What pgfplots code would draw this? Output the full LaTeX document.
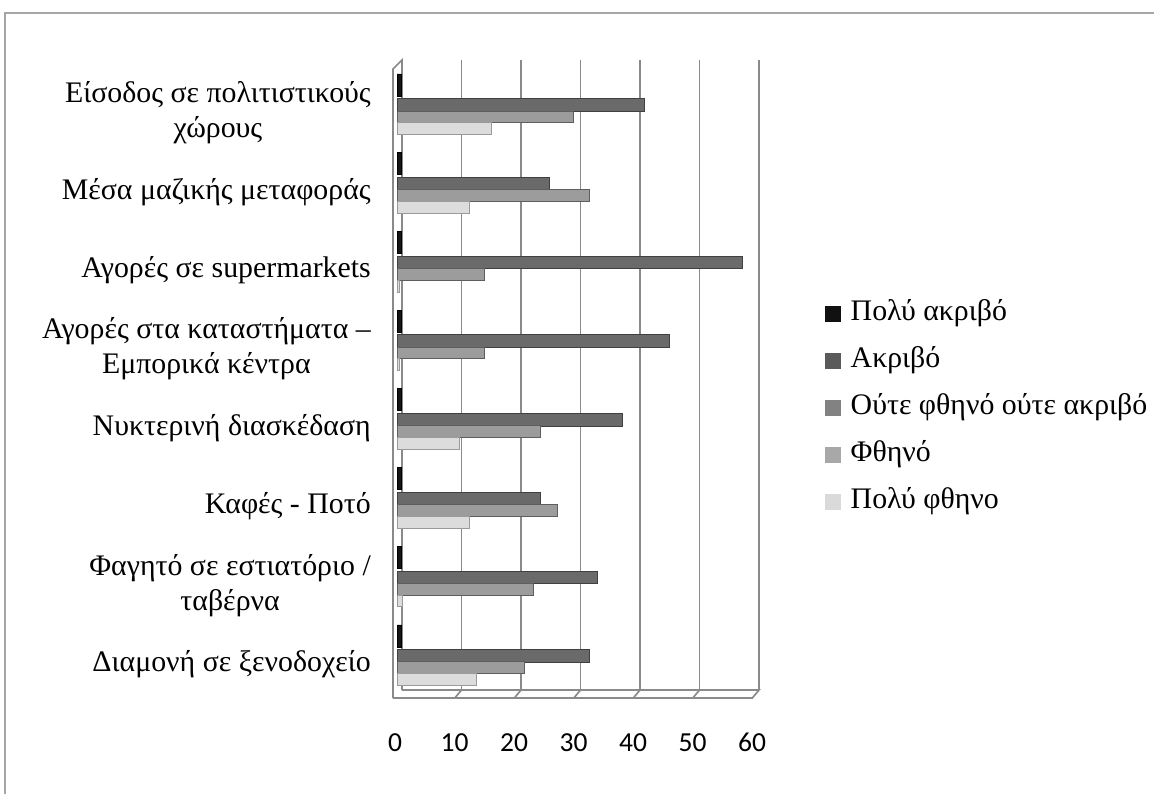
\documentclass[border=0pt]{standalone}
\usepackage{pgfplots}
\pgfplotsset{compat=1.18}
\usepackage{fontspec}
\setmainfont{Liberation Serif}
\newfontfamily\carlito{Carlito}
\definecolor{cBlk}{HTML}{151515}
\definecolor{cDark}{HTML}{6A6A6A}
\definecolor{cMed}{HTML}{9C9C9C}
\definecolor{cLight}{HTML}{DCDCDC}
\definecolor{lgA}{HTML}{111111}
\definecolor{lgB}{HTML}{5A5A5A}
\definecolor{lgC}{HTML}{828282}
\definecolor{lgD}{HTML}{A8A8A8}
\definecolor{lgE}{HTML}{DADADA}
\definecolor{wallc}{HTML}{8A8A8A}
\pgfplotsset{sw/.style={legend image code/.code={\fill[#1] (0pt,-4.5pt) rectangle (9pt,4.5pt); \path[draw=none,fill=none] (9pt,-0.1pt) rectangle (13pt,0.1pt);}}}
\begin{document}
\begin{tikzpicture}
\useasboundingbox (0pt,0pt) rectangle (692.4pt,476.4pt);
\draw[color=gray!70, line width=1.2pt] (2.7pt,0pt) -- (2.7pt,468.3pt) -- (692.4pt,468.3pt);
\begin{axis}[
 at={(238.2pt,57.6pt)}, anchor=south west,
 scale only axis, width=214.2pt, height=378pt,
 xmin=0, xmax=60, ymin=-0.433, ymax=7.572,
 axis line style={draw=none}, tick style={draw=none},
 xtick={0,10,...,60}, ytick={0,...,7},
 yticklabels={{Διαμονή σε ξενοδοχείο},{Φαγητό σε εστιατόριο /\\ταβέρνα},{Καφές - Ποτό},{Νυκτερινή διασκέδαση},{Αγορές στα καταστήματα –\\Εμπορικά κέντρα},{Αγορές σε supermarkets},{Μέσα μαζικής μεταφοράς},{Είσοδος σε πολιτιστικούς\\χώρους}},
 yticklabel style={font=\fontsize{17.9}{21}\selectfont, align=center, xshift=-12.2pt},
 xticklabel style={font=\carlito\fontsize{16.5}{19}\selectfont, anchor=base, yshift=-32pt, xshift=-1.2pt},
 /pgf/number format/assume math mode=true,
 xmajorgrids, major grid style={draw=wallc, line width=1pt, xshift=3pt, yshift=4.8pt},
 legend style={at={(1.199,0.636)}, anchor=north west, draw=none, fill=none, inner sep=0pt, row sep=8.1pt,
   font=\fontsize{17.9}{21}\selectfont, nodes={text height=12pt, text depth=4pt}},
 legend cell align=left,
 clip=false,
]
% 3D walls / floor decoration
\draw[wallc, line width=1pt] ([xshift=-2.4pt]rel axis cs:0,0) -- ([xshift=-2.4pt,yshift=-0.6pt]rel axis cs:0,1) -- ([xshift=3pt,yshift=4.8pt]rel axis cs:0,1) -- ([xshift=3pt,yshift=4.8pt]rel axis cs:0,0);
\draw[wallc, line width=1pt] ([xshift=-2.4pt]rel axis cs:0,0) -- ([xshift=-1pt]rel axis cs:1,0) -- ([xshift=3pt,yshift=4.8pt]rel axis cs:1,0) -- ([xshift=3pt,yshift=4.8pt]rel axis cs:0,0);
\pgfplotsinvokeforeach{10,20,30,40,50}{
 \draw[wallc, line width=1pt] ([xshift=-1pt]axis cs:#1,-0.433) -- ([xshift=3pt,yshift=4.8pt]axis cs:#1,-0.433);
}
% Πολύ ακριβό
\addplot[xbar, fill=cBlk, draw=black, line width=0.4pt, bar width=0.28, bar shift=0.356, forget plot] coordinates {
(0.8,7) (0.8,6) (0.8,5) (0.8,4) (0.8,3) (0.8,2) (0.8,1) (0.8,0)};
% Ακριβό
\addplot[xbar, fill=cDark, draw=cDark!60!black, line width=0.6pt, bar width=0.16, bar shift=0.10, forget plot] coordinates {
(41.6,7) (25.6,6) (58.1,5) (45.8,4) (37.9,3) (24.2,2) (33.7,1) (32.3,0)};
% Ούτε φθηνό ούτε ακριβό
\addplot[xbar, fill=cMed, draw=cMed!60!black, line width=0.6pt, bar width=0.15, bar shift=-0.05, forget plot] coordinates {
(29.6,7) (32.3,6) (14.7,5) (14.7,4) (24.2,3) (27.0,2) (23.0,1) (21.4,0)};
% Πολύ φθηνό
\addplot[xbar, fill=cLight, draw=cLight!70!black, line width=0.6pt, bar width=0.15, bar shift=-0.20, forget plot] coordinates {
(15.8,7) (12.2,6) (0.5,5) (0.5,4) (10.5,3) (12.2,2) (1.0,1) (13.3,0)};
\addlegendimage{sw=lgA}\addlegendentry{Πολύ ακριβό}
\addlegendimage{sw=lgB}\addlegendentry{Ακριβό}
\addlegendimage{sw=lgC}\addlegendentry{Ούτε φθηνό ούτε ακριβό}
\addlegendimage{sw=lgD}\addlegendentry{Φθηνό}
\addlegendimage{sw=lgE}\addlegendentry{Πολύ φθηνο}
\end{axis}
\end{tikzpicture}
\end{document}
